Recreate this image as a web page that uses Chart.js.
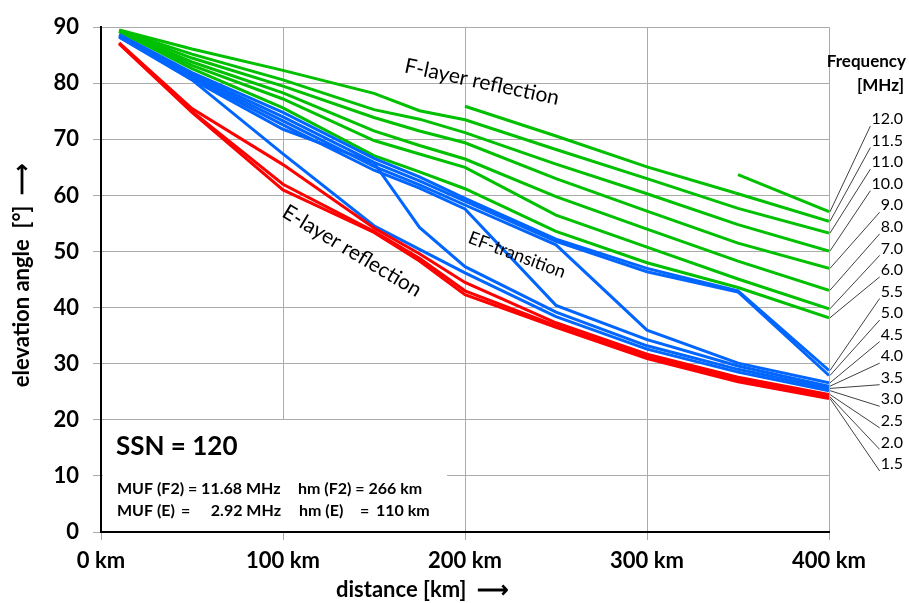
<!DOCTYPE html>
<html><head><meta charset="utf-8">
<script src="https://cdn.jsdelivr.net/npm/chart.js@4/dist/chart.umd.min.js"></script>
<style>html,body{margin:0;padding:0;background:#fff}</style>
</head><body>
<canvas id="c" width="909" height="603"></canvas>
<script>
// ---- data ----
const distances = [10, 50, 100, 150, 175, 200, 250, 300, 350, 400];
const xTicks = [0, 100, 200, 300, 400];
const yTicks = [0, 10, 20, 30, 40, 50, 60, 70, 80, 90];

const f1_5  = [87.0, 74.8, 61.0, 53.4, 48.3, 42.3, 36.5, 30.9, 26.8, 23.8];
const f2_0  = [87.1, 75.0, 62.0, 53.6, 48.8, 43.0, 36.8, 31.2, 27.2, 24.1];
const f2_5  = [87.2, 75.5, 65.5, 54.2, 49.6, 44.5, 37.3, 31.7, 27.6, 24.5];
const f3_0  = [88.2, 80.6, 67.4, 54.6, 50.4, 46.2, 38.4, 32.6, 28.5, 25.2];
const f3_5  = [88.3, 80.7, 71.8, 65.8, 54.3, 47.3, 39.2, 33.2, 29.0, 25.6];
const f4_0  = [88.4, 81.0, 72.6, 64.5, 61.3, 57.6, 40.4, 34.3, 29.6, 26.0];
const f4_5  = [88.5, 81.3, 73.3, 65.2, 61.9, 58.3, 51.2, 36.0, 30.1, 26.6];
const f5_0  = [88.6, 81.6, 74.0, 65.9, 62.6, 59.0, 51.8, 46.4, 42.8, 27.9];
const f5_5  = [88.7, 81.9, 74.8, 66.6, 63.3, 59.5, 52.2, 47.0, 43.0, 28.8];
const f6_0  = [89.2, 82.6, 75.6, 67.1, 64.2, 61.2, 53.6, 48.0, 43.6, 38.2];
const f7_0  = [89.3, 83.2, 77.2, 69.8, 67.4, 65.0, 56.5, 50.8, 45.1, 39.8];
const f8_0  = [89.3, 83.8, 78.3, 71.5, 68.9, 66.5, 59.8, 54.0, 48.3, 43.1];
const f9_0  = [89.4, 84.5, 79.5, 73.9, 71.5, 69.4, 63.0, 57.2, 51.5, 47.0];
const f10_0 = [89.4, 85.2, 80.6, 75.3, 73.6, 71.2, 65.6, 60.3, 54.8, 50.1];
const f11_0 = [89.5, 86.1, 82.3, 78.2, 75.1, 73.5, 68.2, 63.0, 57.7, 53.3];
const f11_5 = [null, null, null, null, null, 75.9, 70.6, 65.1, 60.3, 55.4];
const f12_0 = [null, null, null, null, null, null, null, null, 63.7, 57.1];

const freqLabels = ['12.0','11.5','11.0','10.0','9.0','8.0','7.0','6.0','5.5','5.0','4.5','4.0','3.5','3.0','2.5','2.0','1.5'];
const freqSeries = [f12_0,f11_5,f11_0,f10_0,f9_0,f8_0,f7_0,f6_0,f5_5,f5_0,f4_5,f4_0,f3_5,f3_0,f2_5,f2_0,f1_5];
const layerOf    = ['F','F','F','F','F','F','F','F','EF','EF','EF','EF','EF','EF','E','E','E'];

const annotations = ['F-layer reflection', 'E-layer reflection', 'EF-transition'];
const boxTitle = 'SSN = 120';
const boxParts = [
  ['MUF (F2) = 11.68 MHz', 'hm (F2) = 266 km'],
  ['MUF (E)', '=', '2.92 MHz', 'hm (E)', '=', '110 km']
];

// ---- styles ----
const COLORS = { F: '#00c000', EF: '#0066ff', E: '#ff0000' };
const FONT = 'Lato, "Liberation Sans", sans-serif';

function pts(arr) {
  const out = [];
  arr.forEach((v, i) => out.push({ x: distances[i], y: v }));
  return out;
}

// red first so it is drawn on top, then blue, then green
const order = [];
for (let i = freqSeries.length - 1; i >= 0; i--) order.push(i);
const datasets = order.map(i => ({
  label: freqLabels[i] + ' MHz',
  data: pts(freqSeries[i]),
  borderColor: COLORS[layerOf[i]],
  backgroundColor: COLORS[layerOf[i]],
  borderWidth: 3,
  pointRadius: 0,
  tension: 0,
  spanGaps: false,
  fill: false
}));

const extras = {
  id: 'extras',
  beforeDatasetsDraw(chart) {
    const ctx = chart.ctx;
    ctx.save();
    ctx.fillStyle = '#fff';
    ctx.fillRect(103, 420, 344, 111);
    ctx.restore();
  },
  afterDatasetsDraw(chart) {
    const ctx = chart.ctx;
    const xs = chart.scales.x, ys = chart.scales.y;
    ctx.save();
    ctx.fillStyle = '#000';
    // text box
    ctx.textBaseline = 'alphabetic';
    ctx.textAlign = 'left';
    ctx.font = 'bold 26px ' + FONT;
    ctx.fillText(boxTitle, 116, 455);
    ctx.font = 'bold 16px ' + FONT;
    ctx.fillText(boxParts[0][0], 117, 494);
    ctx.fillText(boxParts[0][1], 298, 494);
    ctx.fillText(boxParts[1][0], 117, 516);
    ctx.fillText(boxParts[1][1], 181, 516);
    ctx.textAlign = 'right';
    ctx.fillText(boxParts[1][2], 281, 516);
    ctx.textAlign = 'left';
    ctx.fillText(boxParts[1][3], 299, 516);
    ctx.fillText(boxParts[1][4], 360, 516);
    ctx.fillText(boxParts[1][5], 376, 516);

    // rotated annotations
    const rot = (txt, cx, cy, deg, size) => {
      ctx.save();
      ctx.translate(cx, cy);
      ctx.rotate(deg * Math.PI / 180);
      ctx.font = size + 'px ' + FONT;
      ctx.textAlign = 'center';
      ctx.textBaseline = 'middle';
      ctx.fillText(txt, 0, 0);
      ctx.restore();
    };
    rot(annotations[0], 482, 82, 12, 21);
    rot(annotations[1], 352, 251, 31, 21);
    rot(annotations[2], 517, 255, 20.5, 18);

    // legend on the right
    ctx.textAlign = 'right';
    ctx.textBaseline = 'middle';
    ctx.font = 'bold 17px ' + FONT;
    ctx.fillText('Frequency', 906, 62);
    ctx.fillText('[MHz]', 904, 86);
    ctx.font = '16px ' + FONT;
    const x400 = xs.getPixelForValue(400);
    freqLabels.forEach((lab, i) => {
      const ly = 119 + i * 21.56;
      ctx.fillStyle = '#000';
      ctx.fillText(lab, 903, ly);
      const w = ctx.measureText(lab).width;
      const arr = freqSeries[i];
      const yEnd = ys.getPixelForValue(arr[arr.length - 1]);
      ctx.beginPath();
      ctx.strokeStyle = '#404040';
      ctx.lineWidth = 1;
      ctx.moveTo(x400 + 1, yEnd);
      ctx.lineTo(903 - w - 1, ly + 7);
      ctx.stroke();
    });

    // axis titles
    ctx.font = 'bold 22px ' + FONT;
    ctx.textAlign = 'left';
    ctx.textBaseline = 'middle';
    ctx.fillText('distance [km]  \u27f6', 336, 590);
    ctx.save();
    ctx.translate(22, 275);
    ctx.rotate(-Math.PI / 2);
    ctx.textAlign = 'center';
    ctx.fillText('elevation angle  [\u00b0]  \u27f6', 0, 0);
    ctx.restore();
    ctx.restore();
  }
};

new Chart(document.getElementById('c'), {
  type: 'line',
  data: { datasets },
  options: {
    responsive: false,
    animation: false,
    devicePixelRatio: 1,
    layout: { padding: { left: 0, right: 80, top: 19, bottom: 0 } },
    plugins: { legend: { display: false }, tooltip: { enabled: false } },
    scales: {
      x: {
        type: 'linear', min: 0, max: 400,
        afterFit(s) { s.height = 71; },
        afterBuildTicks(s) { s.ticks = xTicks.map(v => ({ value: v })); },
        ticks: { color: '#000', font: { family: FONT, size: 22, weight: 'bold' }, padding: 8,
                 maxRotation: 0, callback: v => v + ' km' },
        grid: { color: '#ababab', lineWidth: 1, tickLength: 8 },
        border: { color: '#000', width: 2 }
      },
      y: {
        type: 'linear', min: 0, max: 90,
        afterFit(s) { s.width = 101; },
        afterBuildTicks(s) { s.ticks = yTicks.map(v => ({ value: v })); },
        ticks: { color: '#000', font: { family: FONT, size: 22, weight: 'bold' }, padding: 14 },
        grid: { color: '#ababab', lineWidth: 1, tickLength: 8 },
        border: { color: '#000', width: 2 }
      }
    }
  },
  plugins: [extras]
});
</script>
</body></html>
